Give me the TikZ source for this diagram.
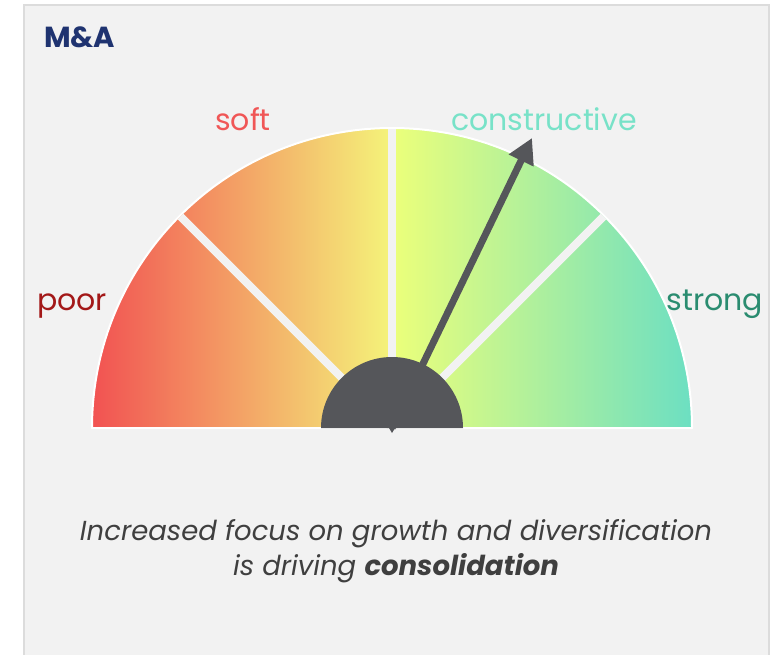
\documentclass[tikz,border=0pt]{standalone}
\usepackage{fontspec}
\setmainfont{Poppins}
\usetikzlibrary{arrows.meta}
\definecolor{panelbg}{HTML}{F2F2F2}
\definecolor{panelrule}{HTML}{DCDCDC}
\definecolor{titleblue}{HTML}{1F3370}
\definecolor{gRed}{HTML}{F25252}
\definecolor{gOrange}{HTML}{F1A466}
\definecolor{gYellow}{HTML}{F4F47A}
\definecolor{gLime}{HTML}{ECFF7A}
\definecolor{gGreen}{HTML}{B4F296}
\definecolor{gTeal}{HTML}{6CDFC2}
\definecolor{hubgrey}{HTML}{55565A}
\definecolor{poorc}{HTML}{A31818}
\definecolor{softc}{HTML}{F05656}
\definecolor{constc}{HTML}{78E2C8}
\definecolor{strongc}{HTML}{2A8C70}
\definecolor{captionc}{HTML}{3F3F3F}
\tikzset{
  gaugelabel/.style={anchor=base, font=\fontsize{30}{34}\selectfont\fontseries{l}\selectfont},
  separator/.style={draw=panelbg, line width=8pt},
  caption/.style={anchor=base, font=\fontsize{27.5}{32}\selectfont\itshape, text=captionc},
}
\begin{document}
\begin{tikzpicture}[x=1pt,y=1pt]
\useasboundingbox (0,0) rectangle (783,654);
% card
\fill[white] (0,0) rectangle (783,654);
\draw[panelrule, line width=2pt, fill=panelbg] (24,-10) rectangle (769,649);
\node[anchor=base west, font=\fontsize{29}{33}\selectfont\bfseries, text=titleblue, inner sep=0pt] (title) at (44,606) {M\&A};

\def\R{300}
\coordinate (c) at (392,226);
% left half of the dial: red to yellow
\shade[left color=gRed, middle color=gOrange, right color=gYellow]
  (c) -- ++(180:\R) arc[start angle=180, end angle=90, radius=\R] -- cycle;
% right half of the dial: lime to teal
\shade[left color=gLime, middle color=gGreen, right color=gTeal]
  (c) -- ++(90:\R) arc[start angle=90, end angle=0, radius=\R] -- cycle;
% rim
\draw[white, line width=2pt, line join=round]
  (c) ++(180:\R) arc[start angle=180, end angle=0, radius=\R] -- cycle;
% sector separators
\foreach \a in {45,90,135}
  \draw[separator] (c) -- ++(\a:\R-1);

% hub and needle
\coordinate (tip) at (532,516);
\draw[hubgrey, line width=7pt, -{Triangle[width=26pt,length=25pt]}] (c) -- (tip);
\fill[hubgrey] (c) ++(180:71) arc[start angle=180, end angle=0, radius=71] -- cycle;
\fill[hubgrey] (389,226) -- (395,226) -- (392,221) -- cycle;

% scale labels
\node[gaugelabel, text=poorc] (poor) at (72,344) {poor};
\node[gaugelabel, text=softc] (soft) at (243,523) {soft};
\node[gaugelabel, text=constc] (constructive) at (544,523) {constructive};
\node[gaugelabel, text=strongc] (strong) at (715,344) {strong};

% caption
\node[caption] (cap1) at (396,114) {Increased focus on growth and diversification};
\node[caption] (cap2) at (396,79) {is driving \textbf{consolidation}};
\end{tikzpicture}
\end{document}
